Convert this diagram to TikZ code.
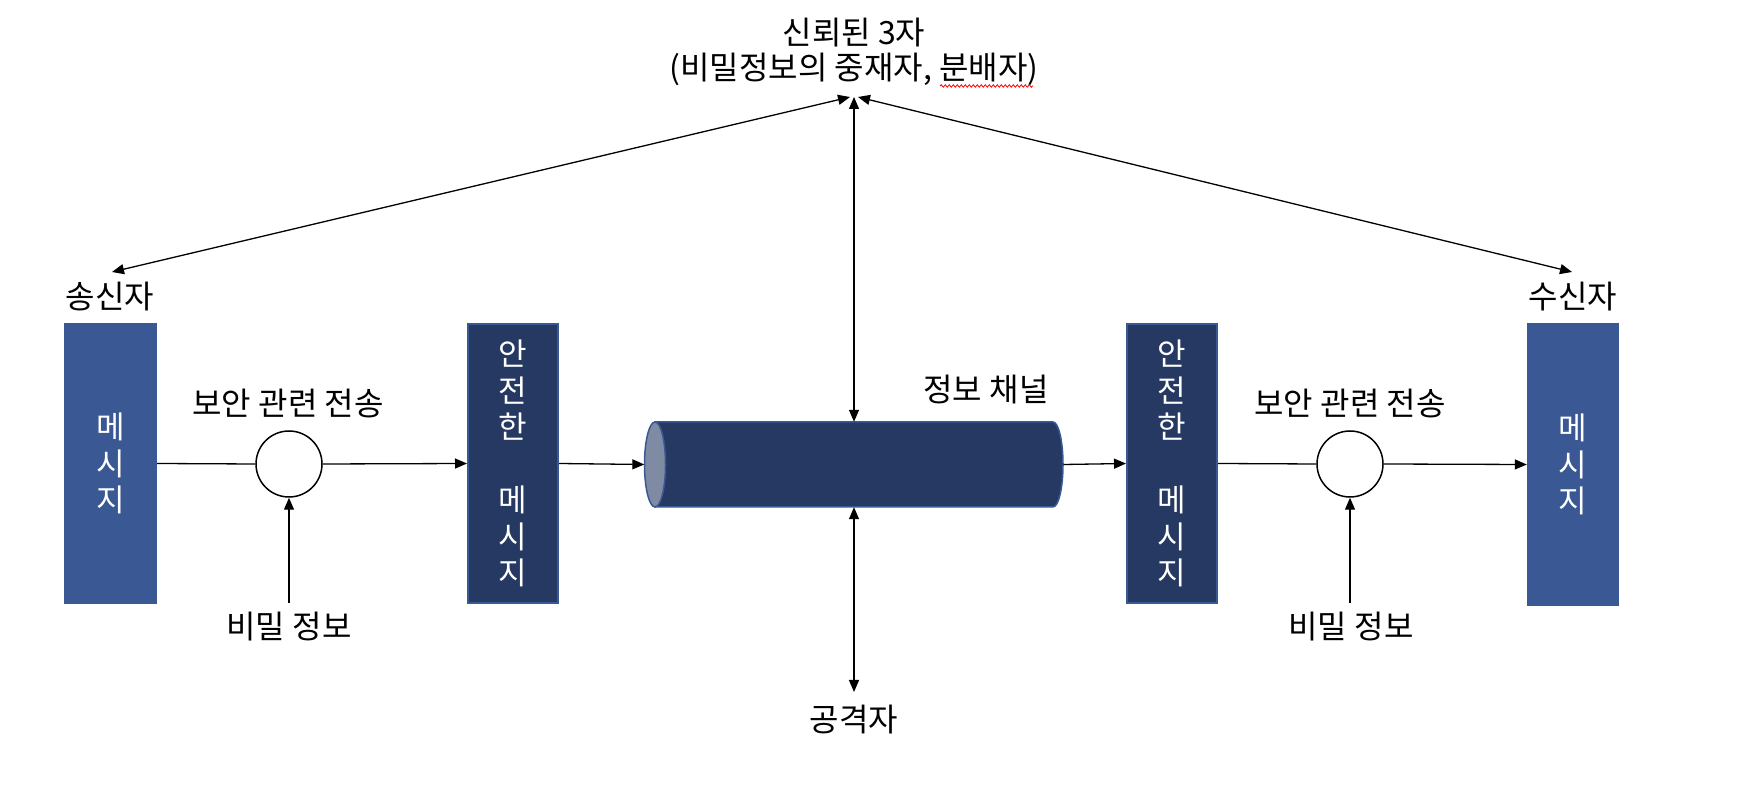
\documentclass[tikz,border=0pt]{standalone}
\usepackage{fontspec}
\newfontfamily\kr{Noto Sans CJK KR}
\usetikzlibrary{arrows.meta,decorations.pathmorphing}
\definecolor{sblue}{HTML}{3A5894}
\definecolor{navy}{HTML}{263962}
\definecolor{face}{HTML}{7F8BA2}
\tikzset{
  lbl/.style={font=\kr\fontsize{32}{35}\selectfont, inner sep=0pt, text=black, align=center},
  msgbox/.style={rectangle, fill=sblue, minimum width=93pt, minimum height=281pt, inner sep=0pt,
    text=white, align=center, font=\kr\fontsize{31}{36.5}\selectfont},
  securebox/.style={msgbox, fill=navy, draw=sblue, line width=2pt, minimum width=90pt, minimum height=279pt},
  op/.style={circle, draw=black, line width=1.5pt, fill=white, minimum size=66pt, inner sep=0pt},
  link/.style={line width=1.3pt},
  arr/.style={link, -{Triangle[length=12pt,width=10pt]}},
  darr/.style={link, {Triangle[length=12pt,width=10pt]}-{Triangle[length=12pt,width=10pt]}},
}
\begin{document}
\begin{tikzpicture}[x=1pt,y=1pt]
\useasboundingbox (0,0) rectangle (1752,800);

% title
\node[lbl] (top) at (854,748) {신뢰된 3자\\(비밀정보의 중재자, 분배자)};
\draw[red, line width=0.8pt, decorate, decoration={snake, segment length=4pt, amplitude=1.2pt}] (940,714) -- (1033,714);

% boxes
\node[msgbox] (snd) at (110.5,336.5) {메\\시\\지};
\node[securebox] (secL) at (513,336.5) {안\\전\\한\\\mbox{}\\메\\시\\지};
\node[securebox] (secR) at (1172,336.5) {안\\전\\한\\\mbox{}\\메\\시\\지};
\node[msgbox, minimum width=92pt, minimum height=283pt] (rcv) at (1573,335.5) {메\\시\\지};

\node[lbl] (sndlbl) at (110,503) {송신자};
\node[lbl] (rcvlbl) at (1573,503) {수신자};

% operation circles
\node[op] (c1) at (289,336) {};
\node[op] (c2) at (1350,336) {};
\node[lbl] (t1) at (288,397) {보안 관련 전송};
\node[lbl] (t2) at (1350,397) {보안 관련 전송};
\node[lbl] (k1) at (289,173) {비밀 정보};
\node[lbl] (k2) at (1351,173) {비밀 정보};

% channel cylinder
\fill[navy, draw=sblue, line width=1.5pt] (655,378) -- (1053,378)
  arc[start angle=90, end angle=-90, x radius=10, y radius=42.5] -- (655,293) -- cycle;
\filldraw[fill=face, draw=sblue, line width=1.5pt] (655,335.5) ellipse[x radius=10.5, y radius=42.5];
\node[inner sep=0pt, minimum width=419pt, minimum height=85pt] (chan) at (854,335.5) {};
\node[lbl] (chanlbl) at (986,410) {정보 채널};

\node[lbl] (att) at (854,80) {공격자};

% coordinates
\coordinate (apexL) at (850,703);
\coordinate (apexC) at (854,703);
\coordinate (apexR) at (858,703);
\coordinate (sndtip) at (112,528);
\coordinate (rcvtip) at (1572,528);
\coordinate (atttip) at (854,108);
\coordinate (k1top) at (289,197);
\coordinate (k2top) at (1350,197);

% connectors
\draw[link] (snd.east) -- (c1.west);
\draw[arr] (c1.east) -- (secL.west);
\draw[arr] (secL.east) -- (chan.west);
\draw[arr] (chan.east) -- (secR.west);
\draw[link] (secR.east) -- (c2.west);
\draw[arr] (c2.east) -- (rcv.west);
\draw[arr] (k1top) -- (c1.south);
\draw[arr] (k2top) -- (c2.south);

\draw[darr] (apexC) -- (chan.north);
\draw[darr] (chan.south) -- (atttip);
\draw[darr] (apexL) -- (sndtip);
\draw[darr] (apexR) -- (rcvtip);
\end{tikzpicture}
\end{document}
